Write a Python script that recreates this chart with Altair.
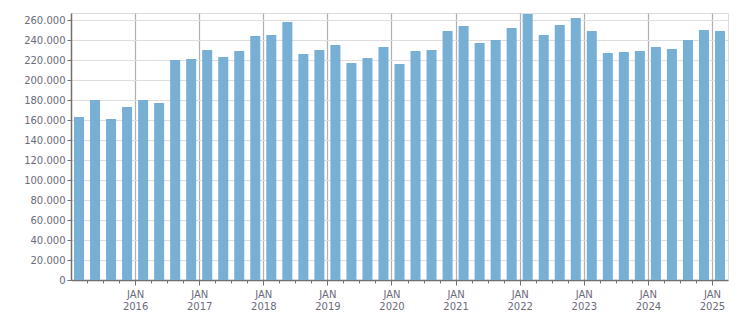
import altair as alt
import pandas as pd

quarters = [f"{y} Q{q}" for y in range(2015, 2026) for q in range(1, 5)][:41]
values = [163000, 180000, 161000, 173000, 180000, 177000, 220000, 221000,
          230000, 223000, 229000, 244000, 245000, 258000, 226000, 230000,
          235000, 217000, 222000, 233000, 216000, 229000, 230000, 249000,
          254000, 237000, 240000, 252000, 266000, 245000, 255000, 262000,
          249000, 227000, 228000, 229000, 233000, 231000, 240000, 250000,
          249000]
y_ticks = list(range(0, 260001, 20000))

df = pd.DataFrame({"quarter": quarters, "value": values, "i": list(range(len(values)))})

FONT = "DejaVu Sans"
LABEL_COLOR = "#6b6b7a"

chart = alt.Chart(df).transform_calculate(
    start="datum.i + 0.1875", end="datum.i + 0.8125"
).mark_rect(color="#77b0d4").encode(
    x=alt.X("start:Q",
            scale=alt.Scale(domain=[0, 41], nice=False, zero=False),
            axis=alt.Axis(
                title=None,
                values=list(range(1, 41)),
                labelExpr="datum.value % 4 === 0 ? ['JAN', '' + (2015 + datum.value / 4)] : ''",
                labelFont=FONT, labelFontSize=10, labelColor=LABEL_COLOR,
                labelLineHeight=12, labelPadding=4,
                labelFlush=False, labelOverlap=False,
                tickSize={"condition": {"test": "datum.value % 4 === 0", "value": 5}, "value": 3},
                tickColor="#707070",
                grid=True,
                gridColor="#b0b0b0",
                gridOpacity={"condition": {"test": "datum.value % 4 === 0", "value": 1}, "value": 0},
                gridWidth=1.2,
                domainColor="#707070", domainWidth=1.5,
            )),
    x2="end:Q",
    y=alt.Y("value:Q",
            scale=alt.Scale(domain=[0, 267000], nice=False),
            axis=alt.Axis(
                title=None, values=y_ticks,
                labelExpr="replace(format(datum.value, ',d'), /,/g, '.')",
                labelFont=FONT, labelFontSize=10, labelColor=LABEL_COLOR,
                labelPadding=2, tickSize=4, tickColor="#707070",
                gridColor="#dedede", gridWidth=1,
                domainColor="#707070", domainWidth=1.5,
            )),
    y2=alt.datum(0),
    tooltip=["quarter:N", "value:Q"],
).properties(
    width=657, height=267,
    autosize=alt.AutoSizeParams(type="none"),
    padding={"left": 71, "top": 13, "right": 23, "bottom": 33},
).configure_view(
    stroke="#dcdcdc", strokeWidth=1.5
).configure(background="white")

chart.save("out.html", embed_options={"renderer": "svg", "actions": False})
